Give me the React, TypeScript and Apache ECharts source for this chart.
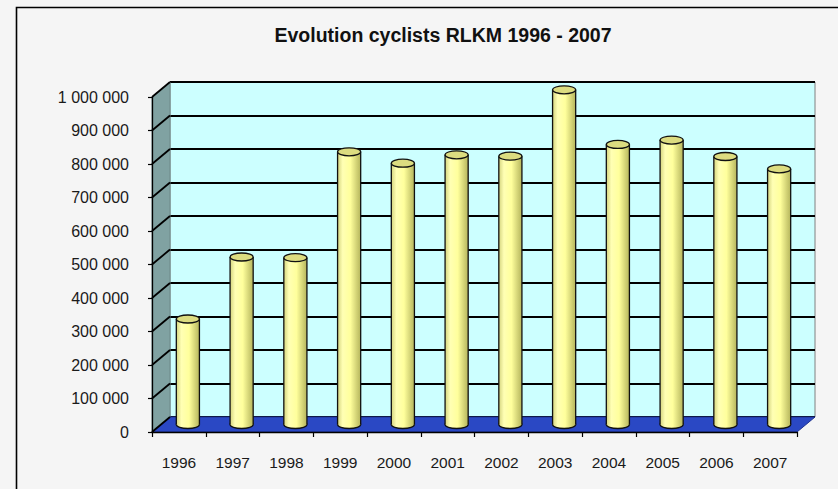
import React, { useEffect, useRef } from "react";
import * as echarts from "echarts";

const years = ["1996", "1997", "1998", "1999", "2000", "2001", "2002", "2003", "2004", "2005", "2006", "2007"];
const cyclists = [315000, 500000, 498000, 814000, 780000, 805000, 801000, 999000, 836000, 849000, 800000, 763000];
const yMin = 0;
const yMax = 1000000;
const yStep = 100000;
const titleText = "Evolution cyclists RLKM 1996 - 2007";

const DX = 18;
const DY = -15;

const fmt = (v: number) => String(v).replace(/\B(?=(\d{3})+(?!\d))/g, " ");

function bodyGrad() {
  return new echarts.graphic.LinearGradient(0, 0, 1, 0, [
    { offset: 0, color: "#D4D47E" },
    { offset: 0.22, color: "#FFFFB4" },
    { offset: 0.55, color: "#FFFF9C" },
    { offset: 1, color: "#B5B55C" },
  ]);
}

export default function App() {
  const ref = useRef<HTMLDivElement>(null);
  useEffect(() => {
    document.body.style.margin = "0";
    const chart = echarts.init(ref.current!, null, { renderer: "svg" });
    const ticks: number[] = [];
    for (let t = yMin; t <= yMax; t += yStep) ticks.push(t);

    const renderWalls = (params: any, api: any) => {
      const cs = params.coordSys;
      const x = cs.x, y = cs.y, w = cs.width, h = cs.height;
      const children: any[] = [
        {
          type: "polygon",
          shape: { points: [[x, y], [x + DX, y + DY], [x + DX, y + h + DY], [x, y + h]] },
          style: { fill: "#80A2A2", stroke: "#6F8A8A", lineWidth: 1 },
        },
        {
          type: "polygon",
          shape: { points: [[x, y + h], [x + w, y + h], [x + w + DX, y + h + DY], [x + DX, y + h + DY]] },
          style: { fill: "#2A48C4", stroke: "#1E3290", lineWidth: 1 },
        },
      ];
      ticks.forEach((t) => {
        const py = api.coord([0, t])[1];
        children.push({
          type: "line",
          shape: { x1: x, y1: py, x2: x + DX, y2: py + DY },
          style: { stroke: "#000", lineWidth: 1.8 },
        });
      });
      return { type: "group", children };
    };

    const renderBar = (params: any, api: any) => {
      const i = api.value(0);
      const v = api.value(1);
      const top = api.coord([i, v]);
      const base = api.coord([i, 0]);
      const band = api.size([1, 0])[0];
      const rx = band * 0.215;
      const ry = 4;
      const cx = top[0] + DX / 2;
      const ty = top[1] + DY / 2;
      const by = base[1] + DY / 2;
      const lw = 1.3;
      return {
        type: "group",
        children: [
          { type: "ellipse", shape: { cx, cy: by, rx, ry }, style: { fill: bodyGrad(), stroke: "#111", lineWidth: lw } },
          { type: "rect", shape: { x: cx - rx, y: ty, width: 2 * rx, height: by - ty }, style: { fill: bodyGrad() } },
          { type: "line", shape: { x1: cx - rx, y1: ty, x2: cx - rx, y2: by }, style: { stroke: "#111", lineWidth: lw } },
          { type: "line", shape: { x1: cx + rx, y1: ty, x2: cx + rx, y2: by }, style: { stroke: "#111", lineWidth: lw } },
          { type: "ellipse", shape: { cx, cy: ty, rx, ry }, style: { fill: "#DCDC80", stroke: "#111", lineWidth: lw } },
        ],
      };
    };

    chart.setOption({
      animation: false,
      backgroundColor: "#F5F5F5",
      title: {
        text: titleText,
        left: 438,
        top: 20,
        textAlign: "center",
        textStyle: { fontFamily: "Liberation Sans, Arial", fontSize: 19.5, fontWeight: "bold", color: "#111" },
      },
      graphic: [
        {
          type: "rect",
          shape: { x: 16.5, y: 7.5, width: 900, height: 600 },
          style: { fill: "none", stroke: "#000", lineWidth: 1.6 },
          z: 100,
          silent: true,
        },
      ],
      grid: [
        { left: 152, top: 97, width: 645, height: 335, containLabel: false, outerBoundsMode: "none" },
        {
          left: 152 + DX, top: 97 + DY, width: 645, height: 335, containLabel: false, outerBoundsMode: "none",
          show: true, backgroundColor: "#CCFFFF", borderColor: "#808080", borderWidth: 1, z: 0,
        },
      ],
      xAxis: [
        {
          type: "category",
          gridIndex: 0,
          data: years,
          axisLine: { show: true, lineStyle: { color: "#000", width: 1.3 } },
          axisTick: { show: true, length: 5, lineStyle: { color: "#000", width: 1.2 } },
          axisLabel: { margin: 22, fontFamily: "Liberation Sans, Arial", fontSize: 15.5, color: "#1a1a1a" },
          splitLine: { show: false },
          z: 20,
        },
        {
          type: "category",
          gridIndex: 1,
          data: years,
          axisLine: { show: false },
          axisTick: { show: false },
          axisLabel: { show: false },
          splitLine: { show: false },
        },
      ],
      yAxis: [
        {
          type: "value",
          gridIndex: 0,
          min: yMin,
          max: yMax,
          interval: yStep,
          axisLine: { show: true, lineStyle: { color: "#000", width: 1.3 } },
          axisTick: { show: true, length: 4, lineStyle: { color: "#000", width: 1.2 } },
          axisLabel: { margin: 23, formatter: fmt, fontFamily: "Liberation Sans, Arial", fontSize: 16, color: "#1a1a1a" },
          splitLine: { show: false },
          z: 20,
        },
        {
          type: "value",
          gridIndex: 1,
          min: yMin,
          max: yMax,
          interval: yStep,
          axisLine: { show: false },
          axisTick: { show: false },
          axisLabel: { show: false },
          splitLine: { show: true, lineStyle: { color: "#000", width: 1.8 } },
        },
      ],
      series: [
        {
          type: "custom",
          name: "walls",
          xAxisIndex: 0,
          yAxisIndex: 0,
          clip: false,
          z: 1,
          silent: true,
          data: [[0, 0]],
          renderItem: renderWalls,
        },
        {
          type: "custom",
          name: "Cyclists",
          xAxisIndex: 0,
          yAxisIndex: 0,
          clip: false,
          z: 5,
          encode: { x: 0, y: 1 },
          data: years.map((y, i) => [i, cyclists[i]]),
          renderItem: renderBar,
        },
      ],
    });
    return () => chart.dispose();
  }, []);
  return <div ref={ref} style={{ width: 838, height: 489 }} />;
}
